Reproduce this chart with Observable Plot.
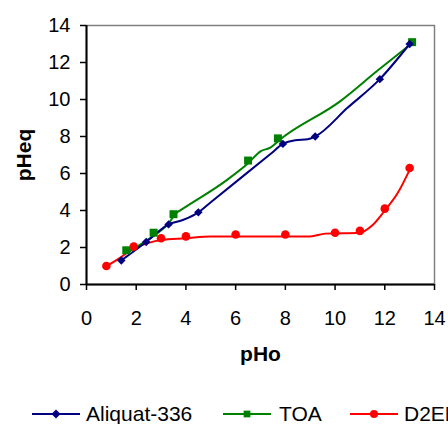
<!DOCTYPE html>
<html>
<head>
<meta charset="utf-8">
<script src="https://cdn.jsdelivr.net/npm/d3@7"></script>
<script src="https://cdn.jsdelivr.net/npm/@observablehq/plot@0.6"></script>
<style>
  html, body { margin: 0; padding: 0; background: #fff; width: 448px; height: 424px; overflow: hidden; }
  #chart { position: relative; width: 448px; height: 424px; overflow: hidden; }
  .lg-line { position: absolute; top: 407px; }
  .lg-text { position: absolute; top: 402px; white-space: nowrap; font-family: 'Liberation Sans', Arial, sans-serif; font-size: 21px; line-height: 24px; color: #000; }
</style>
</head>
<body>
<div id="chart"></div>
<script>
// Tick values
const xTicks = [0, 2, 4, 6, 8, 10, 12, 14];
const yTicks = [0, 2, 4, 6, 8, 10, 12, 14];

// Series names and colours
const seriesNames = ["Aliquat-336", "TOA", "D2EHPA"];
const seriesColors = ["#000080", "#008000", "#FF0000"];

// Aliquat-336 markers
const aliquatX = [1.4, 2.4, 3.3, 4.5, 7.9, 9.2, 11.8, 13.0];
const aliquatY = [1.3, 2.3, 3.25, 3.9, 7.6, 8.0, 11.1, 13.0];
// Aliquat-336 line
const aliquatLineX = [1.4, 2.4, 3.3, 3.9, 4.5, 5.0, 7.4, 7.9, 8.4, 8.9, 9.2, 10.5, 11.8, 13.0];
const aliquatLineY = [1.3, 2.3, 3.25, 3.5, 3.9, 4.45, 7.05, 7.6, 7.8, 7.85, 8.0, 9.55, 11.1, 13.0];

// TOA markers
const toaX = [1.6, 2.7, 3.5, 6.5, 7.7, 13.1];
const toaY = [1.85, 2.8, 3.8, 6.7, 7.9, 13.1];
// TOA line
const toaLineX = [1.6, 2.5, 3.3, 3.6, 3.8, 5.6, 6.5, 7.0, 7.4, 7.8, 10.2, 11.7, 13.05];
const toaLineY = [1.7, 2.45, 3.3, 3.85, 4.03, 5.6, 6.55, 7.2, 7.4, 7.85, 9.9, 11.55, 13.0];

// D2EHPA markers
const d2X = [0.8, 1.9, 3.0, 4.0, 6.0, 8.0, 10.0, 11.0, 12.0, 13.0];
const d2Y = [1.0, 2.05, 2.5, 2.6, 2.7, 2.7, 2.8, 2.9, 4.1, 6.3];
// D2EHPA line
const d2LineX = [0.8, 1.3, 1.9, 2.5, 3.0, 4.0, 5.0, 7.0, 9.0, 9.6, 11.0, 11.5, 12.0, 12.5, 13.0];
const d2LineY = [1.0, 1.4, 1.95, 2.25, 2.4, 2.5, 2.6, 2.6, 2.6, 2.75, 2.8, 3.2, 4.0, 4.9, 6.2];

const toPts = (xs, ys) => xs.map((x, i) => ({x, y: ys[i]}));
const aliquatPts = toPts(aliquatX, aliquatY);
const aliquatLine = toPts(aliquatLineX, aliquatLineY);
const toaPts = toPts(toaX, toaY);
const toaLine = toPts(toaLineX, toaLineY);
const d2Pts = toPts(d2X, d2Y);
const d2Line = toPts(d2LineX, d2LineY);

const font = "'Liberation Sans', Arial, sans-serif";

const chart = Plot.plot({
  width: 448,
  height: 380,
  marginLeft: 86,
  marginRight: 14,
  marginTop: 25,
  marginBottom: 96,
  x: {domain: [0, 14]},
  y: {domain: [0, 14]},
  style: {fontFamily: font, fontSize: "20px", color: "#000", background: "#fff", overflow: "visible"},
  marks: [
    Plot.frame({stroke: "#808080", strokeWidth: 1.5}),
    Plot.axisX({ticks: xTicks, tickSize: 6, tickPadding: 20, tickFormat: d => String(d), label: null, stroke: "#000", strokeWidth: 1.5}),
    Plot.axisY({ticks: yTicks, tickSize: 6, tickPadding: 10, tickFormat: d => String(d), label: null, stroke: "#000", strokeWidth: 1.5}),
    Plot.ruleX([0], {stroke: "#000", strokeWidth: 2}),
    Plot.ruleY([0], {stroke: "#000", strokeWidth: 2}),
    Plot.line(d2Line, {x: "x", y: "y", stroke: seriesColors[2], strokeWidth: 2, curve: "monotone-x"}),
    Plot.line(toaLine, {x: "x", y: "y", stroke: seriesColors[1], strokeWidth: 2, curve: "monotone-x"}),
    Plot.line(aliquatLine, {x: "x", y: "y", stroke: seriesColors[0], strokeWidth: 2, curve: "monotone-x"}),
    Plot.dot(d2Pts, {x: "x", y: "y", fill: seriesColors[2], r: 4.3, symbol: "circle"}),
    Plot.dot(toaPts, {x: "x", y: "y", fill: seriesColors[1], r: 4.5, symbol: "square"}),
    Plot.dot(aliquatPts, {x: "x", y: "y", fill: seriesColors[0], r: 3.8, symbol: "diamond2"}),
    Plot.text(["pHo"], {frameAnchor: "bottom", dy: 76, fontWeight: "bold", fontSize: 21}),
    Plot.text(["pHeq"], {frameAnchor: "left", dx: -62, rotate: -90, textAnchor: "middle", fontWeight: "bold", fontSize: 21})
  ]
});
document.getElementById("chart").appendChild(chart);

// Legend (placed below the plot SVG)
const legendLineLeft = [32, 223, 350];
const legendTextLeft = [86, 279, 404];
const symbols = ["diamond", "square", "circle"];
const root = d3.select("#chart");
seriesNames.forEach((name, i) => {
  const s = root.append("svg").attr("class", "lg-line")
    .style("left", legendLineLeft[i] + "px")
    .attr("width", 48).attr("height", 14);
  s.append("line").attr("x1", 0).attr("x2", 48).attr("y1", 7).attr("y2", 7)
    .attr("stroke", seriesColors[i]).attr("stroke-width", 2);
  const sym = symbols[i] === "circle" ? d3.symbolCircle : d3.symbolSquare;
  const size = symbols[i] === "diamond" ? 40 : (symbols[i] === "square" ? 45 : 50);
  s.append("path").attr("d", d3.symbol(sym, size)())
    .attr("transform", `translate(24,7)${symbols[i] === "diamond" ? " rotate(45)" : ""}`)
    .attr("fill", seriesColors[i]);
  root.append("div").attr("class", "lg-text")
    .style("left", legendTextLeft[i] + "px")
    .text(name);
});
</script>
</body>
</html>
